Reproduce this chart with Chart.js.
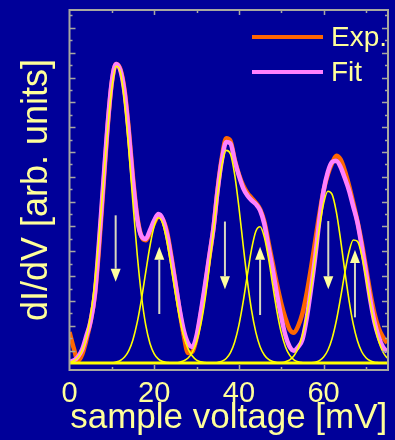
<!DOCTYPE html>
<html>
<head>
<meta charset="utf-8">
<title>dI/dV spectrum</title>
<script src="https://cdn.jsdelivr.net/npm/chart.js@4.4.1/dist/chart.umd.min.js"></script>
<style>
  html, body { margin: 0; padding: 0; background: #000099; }
  #wrap { width: 395px; height: 440px; }
</style>
</head>
<body>
<div id="wrap"><canvas id="didvChart" width="395" height="440"></canvas></div>
<script>
// sample voltage grid [mV]
const voltage = [0, 1, 2, 3, 4, 5, 6, 7, 8, 9, 10, 11, 12, 13, 14, 15, 16, 17, 18, 19,
  20, 21, 22, 23, 24, 25, 26, 27, 28, 29, 30, 31, 32, 33, 34, 35, 36, 37, 38, 39,
  40, 41, 42, 43, 44, 45, 46, 47, 48, 49, 50, 51, 52, 53, 54, 55, 56, 57, 58, 59,
  60, 61, 62, 63, 64, 65, 66, 67, 68, 69, 70, 71, 72, 73, 74, 75];

// measured spectrum (orange)
const expData = [2.5, 1.2, 0.2, 0.7, 1.9, 3.4, 5.5, 9.4, 14.2, 19.0, 22.6, 24.1, 23.7, 22.0, 18.8, 14.9, 11.8, 10.2, 9.9, 10.5,
  11.3, 11.8, 11.6, 10.6, 8.7, 6.5, 4.2, 2.2, 0.8, 0.9, 2.0, 3.9, 6.1, 8.5, 10.9, 14.1, 16.6, 18.1, 17.9, 16.4,
  15.2, 14.3, 13.7, 13.3, 12.9, 12.4, 11.4, 9.7, 8.0, 6.3, 4.8, 3.6, 2.7, 2.45, 3.0, 4.0, 5.6, 7.6, 9.8, 12.0,
  13.9, 15.2, 16.1, 16.7, 16.4, 15.5, 14.3, 12.9, 11.4, 9.7, 7.7, 5.7, 4.0, 2.8, 2.1, 1.6];

// fitted spectrum (pink)
const fitData = [0.1, 0.2, 0.5, 1.1, 2.2, 3.4, 5.6, 9.9, 14.6, 19.2, 22.7, 24.1, 23.6, 21.8, 18.5, 14.6, 11.6, 10.2, 10.0, 10.7,
  11.5, 12.0, 11.6, 10.4, 8.5, 6.4, 4.3, 2.6, 1.6, 1.3, 2.2, 4.1, 6.3, 8.6, 10.9, 14.0, 16.4, 17.8, 17.7, 16.3,
  15.1, 14.1, 13.5, 13.1, 12.8, 12.3, 11.2, 9.3, 7.5, 5.5, 3.7, 2.2, 1.3, 1.0, 1.3, 1.9, 3.6, 5.9, 8.5, 11.5,
  13.9, 15.4, 16.2, 16.3, 15.8, 14.9, 13.9, 12.6, 11.3, 9.4, 7.3, 5.1, 3.3, 2.1, 1.3, 0.9];

// single peak components (yellow)
const peak1 = [0.07, 0.18, 0.45, 1.02, 2.08, 3.88, 6.61, 10.27, 14.56, 18.82, 22.2, 23.9, 23.47, 21.02, 17.18, 12.8, 8.7, 5.4, 3.05, 1.58,
  0.74, 0.32, 0.12, 0.05, 0, 0, 0, 0, 0, 0, 0, 0, 0, 0, 0, 0, 0, 0, 0, 0,
  0, 0, 0, 0, 0, 0, 0, 0, 0, 0, 0, 0, 0, 0, 0, 0, 0, 0, 0, 0,
  0, 0, 0, 0, 0, 0, 0, 0, 0, 0, 0, 0, 0, 0, 0, 0];
const peak2 = [0, 0, 0, 0, 0, 0, 0, 0, 0, 0, 0, 0.08, 0.21, 0.48, 1.0, 1.9, 3.29, 5.15, 7.32, 9.43,
  11.03, 11.7, 11.25, 9.81, 7.76, 5.57, 3.62, 2.14, 1.14, 0.56, 0.24, 0.1, 0.04, 0, 0, 0, 0, 0, 0, 0,
  0, 0, 0, 0, 0, 0, 0, 0, 0, 0, 0, 0, 0, 0, 0, 0, 0, 0, 0, 0,
  0, 0, 0, 0, 0, 0, 0, 0, 0, 0, 0, 0, 0, 0, 0, 0];
const peak3 = [0, 0, 0, 0, 0, 0, 0, 0, 0, 0, 0, 0, 0, 0, 0, 0, 0, 0, 0, 0,
  0, 0, 0, 0, 0, 0, 0.07, 0.18, 0.41, 0.87, 1.72, 3.09, 5.1, 7.73, 10.74, 13.68, 15.99, 17.13, 16.84, 15.18,
  12.55, 9.51, 6.62, 4.22, 2.47, 1.32, 0.65, 0.29, 0.12, 0.05, 0, 0, 0, 0, 0, 0, 0, 0, 0, 0,
  0, 0, 0, 0, 0, 0, 0, 0, 0, 0, 0, 0, 0, 0, 0, 0];
const peak4 = [0, 0, 0, 0, 0, 0, 0, 0, 0, 0, 0, 0, 0, 0, 0, 0, 0, 0, 0, 0,
  0, 0, 0, 0, 0, 0, 0, 0, 0, 0, 0, 0, 0, 0, 0, 0.05, 0.15, 0.37, 0.84, 1.7,
  3.06, 4.93, 7.12, 9.19, 10.62, 10.98, 10.15, 8.41, 6.23, 4.13, 2.45, 1.3, 0.62, 0.26, 0.1, 0.03, 0, 0, 0, 0,
  0, 0, 0, 0, 0, 0, 0, 0, 0, 0, 0, 0, 0, 0, 0, 0];
const peak5 = [0, 0, 0, 0, 0, 0, 0, 0, 0, 0, 0, 0, 0, 0, 0, 0, 0, 0, 0, 0,
  0, 0, 0, 0, 0, 0, 0, 0, 0, 0, 0, 0, 0, 0, 0, 0, 0, 0, 0, 0,
  0, 0, 0, 0, 0, 0, 0, 0, 0, 0, 0.04, 0.11, 0.26, 0.59, 1.2, 2.25, 3.82, 5.95, 8.44, 10.9,
  12.86, 13.84, 13.59, 12.18, 9.95, 7.41, 5.05, 3.13, 1.77, 0.91, 0.43, 0.18, 0.07, 0.03, 0, 0];
const peak6 = [0, 0, 0, 0, 0, 0, 0, 0, 0, 0, 0, 0, 0, 0, 0, 0, 0, 0, 0, 0,
  0, 0, 0, 0, 0, 0, 0, 0, 0, 0, 0, 0, 0, 0, 0, 0, 0, 0, 0, 0,
  0, 0, 0, 0, 0, 0, 0, 0, 0, 0, 0, 0, 0, 0, 0, 0, 0, 0.02, 0.07, 0.2,
  0.48, 1.03, 1.98, 3.41, 5.26, 7.26, 8.97, 9.91, 9.8, 8.67, 6.87, 4.87, 3.09, 1.75, 0.89, 0.4];

const baselineSpan = [0, 75.2];
const baselineLevel = 0;

// spin arrows: voltage, tail value, tip value
const arrowX = [10.9, 21.2, 36.7, 45.0, 61.1, 67.4];
const arrowTail = [11.9, 3.95, 11.4, 3.87, 11.44, 3.68];
const arrowTip = [6.55, 9.37, 5.94, 9.37, 5.94, 9.1];

const legendOrder = ['Exp.', 'Fit'];
const xTickValues = [0, 20, 40, 60];
const xTickMarks = [10, 20, 30, 40, 50, 60, 70];
const yTickMarks = [1, 2, 3, 4, 5, 6, 7, 8, 9, 10, 11, 12, 13, 14, 15, 16, 17, 18, 19, 20,
  21, 22, 23, 24, 25, 26, 27, 28];

const TEXT = '#ffff99';
const FRAME = '#a8a8a0';
const FONT = "'Liberation Sans', Arial, sans-serif";

function toPoints(values) {
    return voltage.map((v, i) => ({ x: v, y: values[i] }));
}

function componentSet(values) {
    return {
        label: '',
        data: toPoints(values),
        borderColor: '#ffff00',
        borderWidth: 1.6,
        pointRadius: 0,
        cubicInterpolationMode: 'monotone'
    };
}

/** frame with inward ticks on all four sides **/
const frameTicks = {
    id: 'frameTicks',
    afterDatasetsDraw(chart) {
        const { ctx, chartArea: a, scales: { x, y } } = chart;
        ctx.save();
        ctx.strokeStyle = FRAME;
        ctx.lineWidth = 1.5;
        ctx.beginPath();
        yTickMarks.forEach(v => {
            const py = Math.round(y.getPixelForValue(v)) + 0.5;
            const len = v % 2 ? 6 : 3;
            ctx.moveTo(a.left, py); ctx.lineTo(a.left + len, py);
            ctx.moveTo(a.right, py); ctx.lineTo(a.right - len, py);
        });
        xTickMarks.forEach(v => {
            const px = Math.round(x.getPixelForValue(v)) + 0.5;
            const len = v % 20 ? 3 : 5;
            ctx.moveTo(px, a.bottom); ctx.lineTo(px, a.bottom - len);
            ctx.moveTo(px, a.top); ctx.lineTo(px, a.top + len);
        });
        ctx.stroke();
        ctx.lineWidth = 2;
        ctx.strokeRect(a.left, a.top, a.right - a.left, a.bottom - a.top);
        ctx.restore();
    }
};

/** up / down arrows marking the spin components **/
const spinArrows = {
    id: 'spinArrows',
    afterDatasetsDraw(chart) {
        const { ctx, scales: { x, y } } = chart;
        ctx.save();
        arrowX.forEach((v, i) => {
            const px = x.getPixelForValue(v);
            const tail = y.getPixelForValue(arrowTail[i]);
            const tip = y.getPixelForValue(arrowTip[i]);
            const dir = tip > tail ? 1 : -1;
            const headLen = 13, headHalf = 5;
            ctx.strokeStyle = '#d8d8c0';
            ctx.lineWidth = 2;
            ctx.beginPath();
            ctx.moveTo(px, tail);
            ctx.lineTo(px, tip - dir * headLen);
            ctx.stroke();
            ctx.fillStyle = '#ffffa0';
            ctx.beginPath();
            ctx.moveTo(px, tip);
            ctx.lineTo(px - headHalf, tip - dir * headLen);
            ctx.lineTo(px + headHalf, tip - dir * headLen);
            ctx.closePath();
            ctx.fill();
        });
        ctx.restore();
    }
};

/** legend in the top right corner of the plot **/
const cornerLegend = {
    id: 'cornerLegend',
    afterDraw(chart) {
        const { ctx, chartArea: a } = chart;
        const items = legendOrder.map(name => chart.data.datasets.find(d => d.label === name));
        ctx.save();
        ctx.font = '28px ' + FONT;
        ctx.textBaseline = 'middle';
        ctx.textAlign = 'left';
        items.forEach((d, i) => {
            const cy = a.top + 27 + i * 35;
            ctx.strokeStyle = d.borderColor;
            ctx.lineWidth = 4;
            ctx.beginPath();
            ctx.moveTo(a.right - 136, cy);
            ctx.lineTo(a.right - 65, cy);
            ctx.stroke();
            ctx.fillStyle = TEXT;
            ctx.fillText(d.label, a.right - 57, cy + 1);
        });
        ctx.restore();
    }
};

const chart = new Chart(document.getElementById('didvChart'), {
    type: 'line',
    data: {
        datasets: [
            {
                label: '',
                data: baselineSpan.map(v => ({ x: v, y: baselineLevel })),
                borderColor: '#ffff00',
                borderWidth: 3,
                pointRadius: 0
            },
            componentSet(peak1),
            componentSet(peak2),
            componentSet(peak3),
            componentSet(peak4),
            componentSet(peak5),
            componentSet(peak6),
            {
                label: 'Fit',
                data: toPoints(fitData),
                borderColor: '#ff80ff',
                borderWidth: 4.5,
                pointRadius: 0,
                cubicInterpolationMode: 'monotone'
            },
            {
                label: 'Exp.',
                data: toPoints(expData),
                borderColor: '#ff6600',
                borderWidth: 4.5,
                pointRadius: 0,
                cubicInterpolationMode: 'monotone'
            }
        ]
    },
    options: {
        responsive: false,
        animation: false,
        events: [],
        layout: { padding: { top: 10, right: 7, left: 0, bottom: 0 } },
        plugins: {
            legend: { display: false },
            tooltip: { enabled: false }
        },
        scales: {
            x: {
                type: 'linear',
                min: 0,
                max: 75.2,
                afterBuildTicks: s => { s.ticks = xTickValues.map(v => ({ value: v })); },
                afterFit: s => { s.height = 70; },
                grid: { display: false, drawTicks: false },
                border: { display: false },
                ticks: { color: TEXT, font: { family: FONT, size: 29 }, padding: 7, maxRotation: 0, autoSkip: false },
                title: {
                    display: true,
                    text: 'sample voltage [mV]',
                    color: TEXT,
                    font: { family: FONT, size: 35 },
                    padding: { top: 0, bottom: 1 }
                }
            },
            y: {
                type: 'linear',
                min: -0.56,
                max: 28.44,
                afterFit: s => { s.width = 69.5; },
                grid: { display: false, drawTicks: false },
                border: { display: false },
                ticks: { display: false },
                title: {
                    display: true,
                    text: 'dI/dV [arb. units]',
                    color: TEXT,
                    font: { family: FONT, size: 36 },
                    padding: { top: 15, bottom: 0 }
                }
            }
        }
    },
    plugins: [frameTicks, spinArrows, cornerLegend]
});
</script>
</body>
</html>
